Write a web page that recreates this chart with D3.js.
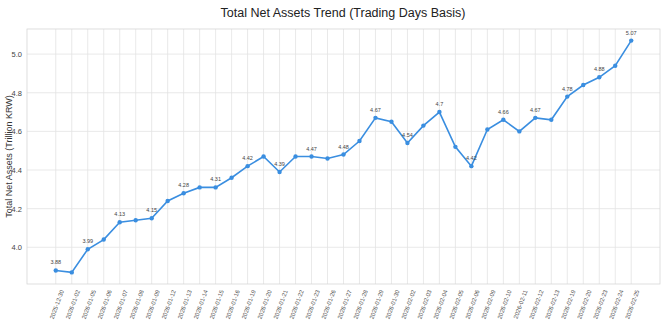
<!DOCTYPE html>
<html>
<head>
<meta charset="utf-8">
<script src="https://cdn.jsdelivr.net/npm/d3@7"></script>
<style>
  body { margin: 0; background: #fff; }
  svg { font-family: "Liberation Sans", "DejaVu Sans", sans-serif; }
</style>
</head>
<body>
<svg id="chart" width="670" height="320"></svg>
<script>
const dates = [
  "2025-12-30", "2026-01-02", "2026-01-05", "2026-01-06", "2026-01-07", "2026-01-08",
  "2026-01-09", "2026-01-12", "2026-01-13", "2026-01-14", "2026-01-15", "2026-01-16",
  "2026-01-19", "2026-01-20", "2026-01-21", "2026-01-22", "2026-01-23", "2026-01-26",
  "2026-01-27", "2026-01-28", "2026-01-29", "2026-01-30", "2026-02-02", "2026-02-03",
  "2026-02-04", "2026-02-05", "2026-02-06", "2026-02-09", "2026-02-10", "2026-02-11",
  "2026-02-12", "2026-02-13", "2026-02-19", "2026-02-20", "2026-02-23", "2026-02-24",
  "2026-02-25"
];
const netAssets = [
  3.88, 3.87, 3.99, 4.04, 4.13, 4.14,
  4.15, 4.24, 4.28, 4.31, 4.31, 4.36,
  4.42, 4.47, 4.39, 4.47, 4.47, 4.46,
  4.48, 4.55, 4.67, 4.65, 4.54, 4.63,
  4.70, 4.52, 4.42, 4.61, 4.66, 4.60,
  4.67, 4.66, 4.78, 4.84, 4.88, 4.94,
  5.07
];
const yTicks = [4.0, 4.2, 4.4, 4.6, 4.8, 5.0];

const svg = d3.select("#chart");
const margin = { top: 29, right: 10, bottom: 36, left: 27 };
const width = 670 - margin.left - margin.right;
const height = 320 - margin.top - margin.bottom;

const n = dates.length;
const pad = (n - 1) * 0.05;
const x = d3.scaleLinear()
  .domain([-pad, n - 1 + pad])
  .range([0, width]);

const yMin = d3.min(netAssets), yMax = d3.max(netAssets);
const yPad = (yMax - yMin) * 0.05;
const y = d3.scaleLinear()
  .domain([yMin - yPad, yMax + yPad])
  .range([height, 0]);

// Title
svg.append("text")
  .attr("x", 343)
  .attr("y", 17)
  .attr("text-anchor", "middle")
  .style("font-size", "12.5px")
  .style("fill", "#222")
  .text("Total Net Assets Trend (Trading Days Basis)");

// Y label
svg.append("text")
  .attr("transform", `translate(12,${margin.top + height / 2}) rotate(-90)`)
  .attr("text-anchor", "middle")
  .style("font-size", "9px")
  .style("fill", "#333")
  .text("Total Net Assets (Trillion KRW)");

const g = svg.append("g")
  .attr("transform", `translate(${margin.left},${margin.top})`);

// Grid
g.selectAll(".vgrid")
  .data(d3.range(n))
  .enter().append("line")
  .attr("class", "vgrid")
  .attr("x1", d => x(d)).attr("x2", d => x(d))
  .attr("y1", 0).attr("y2", height)
  .style("stroke", "#e3e3e3")
  .style("stroke-width", 0.8);

g.selectAll(".hgrid")
  .data(yTicks)
  .enter().append("line")
  .attr("class", "hgrid")
  .attr("x1", 0).attr("x2", width)
  .attr("y1", d => y(d)).attr("y2", d => y(d))
  .style("stroke", "#e3e3e3")
  .style("stroke-width", 0.8);

// Frame
g.append("rect")
  .attr("width", width)
  .attr("height", height)
  .style("fill", "none")
  .style("stroke", "#d6d6d6")
  .style("stroke-width", 0.8);

// Y axis
const yAxis = g.append("g")
  .call(d3.axisLeft(y).tickValues(yTicks).tickFormat(d3.format(".1f")).tickSize(0).tickPadding(5));
yAxis.select(".domain").remove();
yAxis.selectAll("text").style("font-size", "7.5px").style("fill", "#444")
  .style("font-family", "Liberation Sans, sans-serif");

// X axis
const xAxis = g.append("g")
  .attr("transform", `translate(0,${height})`)
  .call(d3.axisBottom(x).tickValues(d3.range(n)).tickFormat(i => dates[i]).tickSize(0));
xAxis.select(".domain").remove();
xAxis.selectAll("text")
  .style("font-size", "6px")
  .style("fill", "#555")
  .style("font-family", "Liberation Sans, sans-serif")
  .attr("text-anchor", "end")
  .attr("dy", "0.35em")
  .attr("transform", "translate(3,5) rotate(-70)");

// Line
const line = d3.line()
  .x((d, i) => x(i))
  .y(d => y(d));

g.append("path")
  .datum(netAssets)
  .attr("d", line)
  .style("fill", "none")
  .style("stroke", "#3a8ee0")
  .style("stroke-width", 1.6);

g.selectAll(".dot")
  .data(netAssets)
  .enter().append("circle")
  .attr("class", "dot")
  .attr("cx", (d, i) => x(i))
  .attr("cy", d => y(d))
  .attr("r", 2.2)
  .style("fill", "#3a8ee0");

// Value labels on every other point
g.selectAll(".vlabel")
  .data(netAssets.map((v, i) => ({ v, i })).filter(d => d.i % 2 === 0))
  .enter().append("text")
  .attr("class", "vlabel")
  .attr("x", d => x(d.i))
  .attr("y", d => y(d.v) - 6)
  .attr("text-anchor", "middle")
  .style("font-size", "5.5px")
  .style("fill", "#444")
  .text(d => d3.format("")(+d.v.toFixed(2)));
</script>
</body>
</html>
